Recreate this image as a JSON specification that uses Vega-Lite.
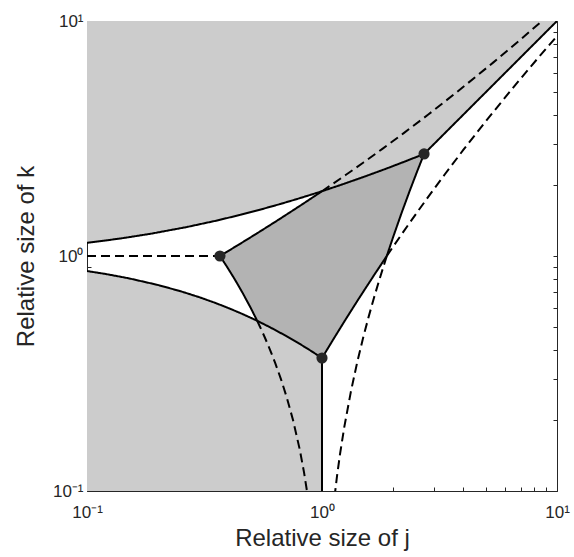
{
  "$schema": "https://vega.github.io/schema/vega-lite/v6.json",
  "width": 470,
  "height": 470,
  "autosize": "none",
  "padding": {"left": 87, "top": 21, "right": 17, "bottom": 66},
  "background": "white",
  "config": {
    "view": {"stroke": null},
    "axis": {
      "domainColor": "#262626", "tickColor": "#262626", "labelColor": "#262626", "titleColor": "#262626",
      "labelFont": "Liberation Sans", "titleFont": "Liberation Sans",
      "labelFontSize": 17, "titleFontSize": 24, "titleFontWeight": "normal",
      "grid": false, "tickSize": -4, "domainWidth": 1, "tickWidth": 1, "zindex": 1,
      "labelOverlap": false, "labelBound": false, "labelFlush": false
    }
  },
  "datasets": {
    "top": [
      {"j": 0.1, "k": 1.138}, {"j": 0.1159, "k": 1.1587}, {"j": 0.1431, "k": 1.1926}, {"j": 0.1865, "k": 1.2433},
      {"j": 0.2655, "k": 1.3277}, {"j": 0.353, "k": 1.412}, {"j": 0.4489, "k": 1.4963}, {"j": 0.5534, "k": 1.581},
      {"j": 0.6662, "k": 1.6656}, {"j": 0.7878, "k": 1.7507}, {"j": 0.9179, "k": 1.8359}, {"j": 1, "k": 1.8868},
      {"j": 1.2051, "k": 2.0084}, {"j": 1.5277, "k": 2.1825}, {"j": 1.8868, "k": 2.3585}, {"j": 2.2837, "k": 2.5374},
      {"j": 2.7183, "k": 2.7183}, {"j": 10, "k": 10}
    ],
    "bottom": [
      {"j": 0.1, "k": 0.863}, {"j": 0.12, "k": 0.8385}, {"j": 0.15, "k": 0.8043}, {"j": 0.2, "k": 0.7532},
      {"j": 0.25, "k": 0.7082}, {"j": 0.3, "k": 0.6683}, {"j": 0.35, "k": 0.6325}, {"j": 0.4, "k": 0.6004},
      {"j": 0.45, "k": 0.5712}, {"j": 0.5, "k": 0.5447}, {"j": 0.53, "k": 0.53}, {"j": 0.6, "k": 0.4979},
      {"j": 0.7, "k": 0.4582}, {"j": 0.8, "k": 0.424}, {"j": 0.9, "k": 0.3941}, {"j": 1, "k": 0.3679}
    ],
    "poly": [
      {"o": 1, "j": 0.3679, "k": 1}, {"o": 2, "j": 0.4379, "k": 1.1111}, {"o": 3, "j": 0.53, "k": 1.25},
      {"o": 4, "j": 0.6546, "k": 1.4286}, {"o": 5, "j": 0.8298, "k": 1.6667}, {"o": 6, "j": 1, "k": 1.8868},
      {"o": 7, "j": 1.2051, "k": 2.0084}, {"o": 8, "j": 1.5277, "k": 2.1825}, {"o": 9, "j": 1.8868, "k": 2.3585},
      {"o": 10, "j": 2.2837, "k": 2.5374}, {"o": 11, "j": 2.7183, "k": 2.7183}, {"o": 12, "j": 2.5374, "k": 2.2837},
      {"o": 13, "j": 2.3585, "k": 1.8868}, {"o": 14, "j": 2.1825, "k": 1.5277}, {"o": 15, "j": 2.0084, "k": 1.2051},
      {"o": 16, "j": 1.8868, "k": 1}, {"o": 17, "j": 1.6667, "k": 0.8298}, {"o": 18, "j": 1.4286, "k": 0.6546},
      {"o": 19, "j": 1.25, "k": 0.53}, {"o": 20, "j": 1.1111, "k": 0.4379}, {"o": 21, "j": 1, "k": 0.3679},
      {"o": 22, "j": 0.9, "k": 0.3941}, {"o": 23, "j": 0.8, "k": 0.424}, {"o": 24, "j": 0.7, "k": 0.4582},
      {"o": 25, "j": 0.6, "k": 0.4979}, {"o": 26, "j": 0.53, "k": 0.53}, {"o": 27, "j": 0.4979, "k": 0.6},
      {"o": 28, "j": 0.4582, "k": 0.7}, {"o": 29, "j": 0.424, "k": 0.8}, {"o": 30, "j": 0.3941, "k": 0.9},
      {"o": 31, "j": 0.3679, "k": 1}
    ],
    "lines": [
      {"c": "Lo", "s": "solid", "o": 1, "j": 0.1, "k": 0.863}, {"c": "Lo", "s": "solid", "o": 2, "j": 0.12, "k": 0.8385},
      {"c": "Lo", "s": "solid", "o": 3, "j": 0.15, "k": 0.8043}, {"c": "Lo", "s": "solid", "o": 4, "j": 0.2, "k": 0.7532},
      {"c": "Lo", "s": "solid", "o": 5, "j": 0.25, "k": 0.7082}, {"c": "Lo", "s": "solid", "o": 6, "j": 0.3, "k": 0.6683},
      {"c": "Lo", "s": "solid", "o": 7, "j": 0.35, "k": 0.6325}, {"c": "Lo", "s": "solid", "o": 8, "j": 0.4, "k": 0.6004},
      {"c": "Lo", "s": "solid", "o": 9, "j": 0.45, "k": 0.5712}, {"c": "Lo", "s": "solid", "o": 10, "j": 0.5, "k": 0.5447},
      {"c": "Lo", "s": "solid", "o": 11, "j": 0.53, "k": 0.53}, {"c": "Lo", "s": "solid", "o": 12, "j": 0.6, "k": 0.4979},
      {"c": "Lo", "s": "solid", "o": 13, "j": 0.7, "k": 0.4582}, {"c": "Lo", "s": "solid", "o": 14, "j": 0.8, "k": 0.424},
      {"c": "Lo", "s": "solid", "o": 15, "j": 0.9, "k": 0.3941}, {"c": "Lo", "s": "solid", "o": 16, "j": 1, "k": 0.3679},

      {"c": "D2a", "s": "solid", "o": 1, "j": 0.3679, "k": 1}, {"c": "D2a", "s": "solid", "o": 2, "j": 0.3941, "k": 0.9},
      {"c": "D2a", "s": "solid", "o": 3, "j": 0.424, "k": 0.8}, {"c": "D2a", "s": "solid", "o": 4, "j": 0.4582, "k": 0.7},
      {"c": "D2a", "s": "solid", "o": 5, "j": 0.4979, "k": 0.6}, {"c": "D2a", "s": "solid", "o": 6, "j": 0.53, "k": 0.53},

      {"c": "D2b", "s": "dashed", "o": 1, "j": 0.53, "k": 0.53}, {"c": "D2b", "s": "dashed", "o": 2, "j": 0.5447, "k": 0.5},
      {"c": "D2b", "s": "dashed", "o": 3, "j": 0.5712, "k": 0.45}, {"c": "D2b", "s": "dashed", "o": 4, "j": 0.6004, "k": 0.4},
      {"c": "D2b", "s": "dashed", "o": 5, "j": 0.6325, "k": 0.35}, {"c": "D2b", "s": "dashed", "o": 6, "j": 0.6683, "k": 0.3},
      {"c": "D2b", "s": "dashed", "o": 7, "j": 0.7082, "k": 0.25}, {"c": "D2b", "s": "dashed", "o": 8, "j": 0.7532, "k": 0.2},
      {"c": "D2b", "s": "dashed", "o": 9, "j": 0.8043, "k": 0.15}, {"c": "D2b", "s": "dashed", "o": 10, "j": 0.8385, "k": 0.12},
      {"c": "D2b", "s": "dashed", "o": 11, "j": 0.863, "k": 0.1},

      {"c": "E1a", "s": "solid", "o": 1, "j": 1, "k": 0.3679}, {"c": "E1a", "s": "solid", "o": 2, "j": 1.1111, "k": 0.4379},
      {"c": "E1a", "s": "solid", "o": 3, "j": 1.25, "k": 0.53}, {"c": "E1a", "s": "solid", "o": 4, "j": 1.4286, "k": 0.6546},
      {"c": "E1a", "s": "solid", "o": 5, "j": 1.6667, "k": 0.8298}, {"c": "E1a", "s": "solid", "o": 6, "j": 1.8868, "k": 1},

      {"c": "E1b", "s": "dashed", "o": 1, "j": 1.8868, "k": 1}, {"c": "E1b", "s": "dashed", "o": 2, "j": 2, "k": 1.0894},
      {"c": "E1b", "s": "dashed", "o": 3, "j": 2.2222, "k": 1.2693}, {"c": "E1b", "s": "dashed", "o": 4, "j": 2.5, "k": 1.501},
      {"c": "E1b", "s": "dashed", "o": 5, "j": 2.8571, "k": 1.8071}, {"c": "E1b", "s": "dashed", "o": 6, "j": 3.3333, "k": 2.2277},
      {"c": "E1b", "s": "dashed", "o": 7, "j": 4, "k": 2.8328}, {"c": "E1b", "s": "dashed", "o": 8, "j": 5, "k": 3.766},
      {"c": "E1b", "s": "dashed", "o": 9, "j": 6.6667, "k": 5.362}, {"c": "E1b", "s": "dashed", "o": 10, "j": 8.3333, "k": 6.9875},
      {"c": "E1b", "s": "dashed", "o": 11, "j": 10, "k": 8.63},

      {"c": "E2a", "s": "solid", "o": 1, "j": 2.7183, "k": 2.7183}, {"c": "E2a", "s": "solid", "o": 2, "j": 2.5374, "k": 2.2837},
      {"c": "E2a", "s": "solid", "o": 3, "j": 2.3585, "k": 1.8868}, {"c": "E2a", "s": "solid", "o": 4, "j": 2.1825, "k": 1.5277},
      {"c": "E2a", "s": "solid", "o": 5, "j": 2.0084, "k": 1.2051}, {"c": "E2a", "s": "solid", "o": 6, "j": 1.8868, "k": 1},

      {"c": "E2b", "s": "dashed", "o": 1, "j": 1.8868, "k": 1}, {"c": "E2b", "s": "dashed", "o": 2, "j": 1.8359, "k": 0.9179},
      {"c": "E2b", "s": "dashed", "o": 3, "j": 1.7507, "k": 0.7878}, {"c": "E2b", "s": "dashed", "o": 4, "j": 1.6656, "k": 0.6662},
      {"c": "E2b", "s": "dashed", "o": 5, "j": 1.581, "k": 0.5534}, {"c": "E2b", "s": "dashed", "o": 6, "j": 1.4963, "k": 0.4489},
      {"c": "E2b", "s": "dashed", "o": 7, "j": 1.412, "k": 0.353}, {"c": "E2b", "s": "dashed", "o": 8, "j": 1.3277, "k": 0.2655},
      {"c": "E2b", "s": "dashed", "o": 9, "j": 1.2433, "k": 0.1865}, {"c": "E2b", "s": "dashed", "o": 10, "j": 1.1926, "k": 0.1431},
      {"c": "E2b", "s": "dashed", "o": 11, "j": 1.1587, "k": 0.1159}, {"c": "E2b", "s": "dashed", "o": 12, "j": 1.1333, "k": 0.0963},

      {"c": "U", "s": "solid", "o": 1, "j": 0.0963, "k": 1.1333}, {"c": "U", "s": "solid", "o": 2, "j": 0.1159, "k": 1.1587},
      {"c": "U", "s": "solid", "o": 3, "j": 0.1431, "k": 1.1926}, {"c": "U", "s": "solid", "o": 4, "j": 0.1865, "k": 1.2433},
      {"c": "U", "s": "solid", "o": 5, "j": 0.2655, "k": 1.3277}, {"c": "U", "s": "solid", "o": 6, "j": 0.353, "k": 1.412},
      {"c": "U", "s": "solid", "o": 7, "j": 0.4489, "k": 1.4963}, {"c": "U", "s": "solid", "o": 8, "j": 0.5534, "k": 1.581},
      {"c": "U", "s": "solid", "o": 9, "j": 0.6662, "k": 1.6656}, {"c": "U", "s": "solid", "o": 10, "j": 0.7878, "k": 1.7507},
      {"c": "U", "s": "solid", "o": 11, "j": 0.9179, "k": 1.8359}, {"c": "U", "s": "solid", "o": 12, "j": 1, "k": 1.8868},
      {"c": "U", "s": "solid", "o": 13, "j": 1.2051, "k": 2.0084}, {"c": "U", "s": "solid", "o": 14, "j": 1.5277, "k": 2.1825},
      {"c": "U", "s": "solid", "o": 15, "j": 1.8868, "k": 2.3585}, {"c": "U", "s": "solid", "o": 16, "j": 2.2837, "k": 2.5374},
      {"c": "U", "s": "solid", "o": 17, "j": 2.7183, "k": 2.7183},

      {"c": "D1a", "s": "solid", "o": 1, "j": 0.3679, "k": 1}, {"c": "D1a", "s": "solid", "o": 2, "j": 0.4379, "k": 1.1111},
      {"c": "D1a", "s": "solid", "o": 3, "j": 0.53, "k": 1.25}, {"c": "D1a", "s": "solid", "o": 4, "j": 0.6546, "k": 1.4286},
      {"c": "D1a", "s": "solid", "o": 5, "j": 0.8298, "k": 1.6667}, {"c": "D1a", "s": "solid", "o": 6, "j": 1, "k": 1.8868},

      {"c": "D1b", "s": "dashed", "o": 1, "j": 1, "k": 1.8868}, {"c": "D1b", "s": "dashed", "o": 2, "j": 1.0894, "k": 2},
      {"c": "D1b", "s": "dashed", "o": 3, "j": 1.2693, "k": 2.2222}, {"c": "D1b", "s": "dashed", "o": 4, "j": 1.501, "k": 2.5},
      {"c": "D1b", "s": "dashed", "o": 5, "j": 1.8071, "k": 2.8571}, {"c": "D1b", "s": "dashed", "o": 6, "j": 2.2277, "k": 3.3333},
      {"c": "D1b", "s": "dashed", "o": 7, "j": 2.8328, "k": 4}, {"c": "D1b", "s": "dashed", "o": 8, "j": 3.766, "k": 5},
      {"c": "D1b", "s": "dashed", "o": 9, "j": 5.362, "k": 6.6667}, {"c": "D1b", "s": "dashed", "o": 10, "j": 6.9875, "k": 8.3333},
      {"c": "D1b", "s": "dashed", "o": 11, "j": 8.63, "k": 10},

      {"c": "H", "s": "dashed", "o": 1, "j": 0.1, "k": 1}, {"c": "H", "s": "dashed", "o": 2, "j": 0.3679, "k": 1},
      {"c": "V", "s": "solid", "o": 1, "j": 1, "k": 0.1}, {"c": "V", "s": "solid", "o": 2, "j": 1, "k": 0.3679},
      {"c": "Dg", "s": "solid", "o": 1, "j": 2.7183, "k": 2.7183}, {"c": "Dg", "s": "solid", "o": 2, "j": 10, "k": 10}
    ],
    "dots": [
      {"j": 0.3679, "k": 1}, {"j": 1, "k": 0.3679}, {"j": 2.7183, "k": 2.7183}
    ]
  },
  "layer": [
    {
      "data": {"name": "top"},
      "mark": {"type": "area", "color": "#cccccc", "clip": true},
      "encoding": {
        "x": {"field": "j", "type": "quantitative",
              "scale": {"type": "log", "domain": [0.1, 10], "nice": false},
              "axis": {"orient": "bottom", "title": "Relative size of j", "values": [0.1,0.2,0.3,0.4,0.5,0.6,0.7,0.8,0.9,1,2,3,4,5,6,7,8,9,10],
                       "labelExpr": "datum.value == 0.1 ? '10⁻¹' : datum.value == 1 ? '10⁰' : datum.value == 10 ? '10¹' : ''",
                       "labelPadding": 17, "titlePadding": 6}},
        "y": {"field": "k", "type": "quantitative",
              "scale": {"type": "log", "domain": [0.1, 10], "nice": false},
              "axis": {"orient": "left", "title": "Relative size of k", "values": [0.1,0.2,0.3,0.4,0.5,0.6,0.7,0.8,0.9,1,2,3,4,5,6,7,8,9,10],
                       "labelExpr": "datum.value == 0.1 ? '10⁻¹' : datum.value == 1 ? '10⁰' : datum.value == 10 ? '10¹' : ''",
                       "labelPadding": 8, "titlePadding": 14}},
        "y2": {"datum": 10}
      }
    },
    {
      "data": {"name": "bottom"},
      "mark": {"type": "area", "color": "#cccccc", "clip": true},
      "encoding": {
        "x": {"field": "j", "type": "quantitative", "scale": {"type": "log", "domain": [0.1, 10], "nice": false}, "axis": null},
        "y": {"field": "k", "type": "quantitative", "scale": {"type": "log", "domain": [0.1, 10], "nice": false}, "axis": null},
        "y2": {"datum": 0.1}
      }
    },
    {
      "data": {"name": "poly"},
      "mark": {"type": "line", "fill": "#b3b3b3", "stroke": null, "strokeWidth": 0, "clip": true},
      "encoding": {
        "x": {"field": "j", "type": "quantitative", "scale": {"type": "log", "domain": [0.1, 10], "nice": false}, "axis": null},
        "y": {"field": "k", "type": "quantitative", "scale": {"type": "log", "domain": [0.1, 10], "nice": false}, "axis": null},
        "order": {"field": "o", "type": "quantitative"}
      }
    },
    {
      "data": {"name": "lines"},
      "mark": {"type": "line", "color": "black", "strokeWidth": 2, "clip": true},
      "encoding": {
        "x": {"field": "j", "type": "quantitative", "scale": {"type": "log", "domain": [0.1, 10], "nice": false}, "axis": null},
        "y": {"field": "k", "type": "quantitative", "scale": {"type": "log", "domain": [0.1, 10], "nice": false}, "axis": null},
        "detail": {"field": "c", "type": "nominal"},
        "order": {"field": "o", "type": "quantitative"},
        "strokeDash": {"field": "s", "type": "nominal", "scale": {"domain": ["solid", "dashed"], "range": [[1, 0], [9, 5]]}, "legend": null}
      }
    },
    {
      "data": {"name": "dots"},
      "mark": {"type": "circle", "color": "#262626", "size": 125, "opacity": 1},
      "encoding": {
        "x": {"field": "j", "type": "quantitative", "scale": {"type": "log", "domain": [0.1, 10], "nice": false},
              "axis": {"orient": "top", "title": null, "labels": false, "values": [0.1,0.2,0.3,0.4,0.5,0.6,0.7,0.8,0.9,1,2,3,4,5,6,7,8,9,10]}},
        "y": {"field": "k", "type": "quantitative", "scale": {"type": "log", "domain": [0.1, 10], "nice": false},
              "axis": {"orient": "right", "title": null, "labels": false, "values": [0.1,0.2,0.3,0.4,0.5,0.6,0.7,0.8,0.9,1,2,3,4,5,6,7,8,9,10]}}
      }
    }
  ],
  "resolve": {"axis": {"x": "independent", "y": "independent"}}
}
